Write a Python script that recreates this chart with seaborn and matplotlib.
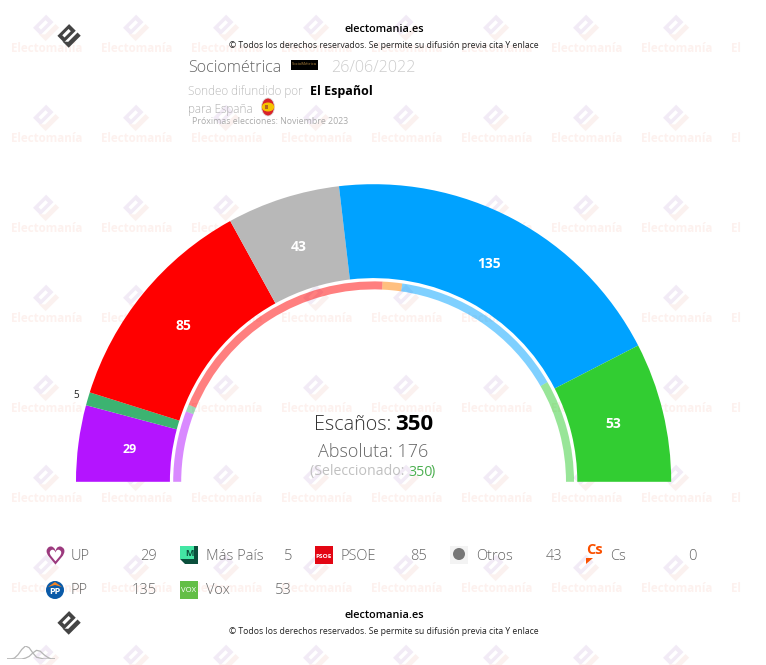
import numpy as np
import pandas as pd
import matplotlib.pyplot as plt
import seaborn as sns
from matplotlib.patches import Circle, Ellipse, Polygon, Rectangle
from matplotlib.transforms import Affine2D

# --------------------------------------------------------------
# Data
# --------------------------------------------------------------

parties = ["UP", "Más País", "PSOE", "Otros", "PP", "Vox"]
seats = [29, 5, 85, 43, 135, 53]
seat_colors = ["#b414ff", "#3cb371", "#ff0000", "#b8b8b8", "#00a2ff", "#32cd32"]

prev_parties = ["UP", "Más País", "PSOE", "Cs", "PP", "Vox"]
prev_seats = [40, 4, 136, 11, 101, 58]
prev_colors = ["#b414ff", "#3cb371", "#ff0000", "#ff8000", "#00a2ff", "#32cd32"]

legend_row1 = ["UP", "Más País", "PSOE", "Otros", "Cs"]
legend_row1_values = [29, 5, 85, 43, 0]
legend_row2 = ["PP", "Vox"]
legend_row2_values = [135, 53]

trend_a = [0, 0, 1, 5, 11, 15, 13, 7, 2, 1, 0, 0, 0, 0]
trend_b = [0, 0, 0, 0, 0, 1, 3, 7, 10, 9, 5, 2, 0, 0]

total_seats = 350
majority = 176
selected = 350

# --------------------------------------------------------------
# Plot settings
# --------------------------------------------------------------

sns.set_theme(style="white")
plt.rcParams["font.family"] = ["Open Sans", "DejaVu Sans"]

WIDTH, HEIGHT = 766, 665
CX, CY = 373.6, 481.8

fig = plt.figure(figsize=(WIDTH / 100, HEIGHT / 100), dpi=100)
ax = fig.add_axes([0, 0, 1, 1])


def logo(x, y, size, c1, c2=None, z=1, clip=None):
    # electomania mark: slotted block upper left, hooked bar lower right
    c2 = c2 or c1
    rot = Affine2D().rotate_deg(45).scale(size).translate(x, y) + ax.transData
    shapes = [
        Polygon([(-0.98, -1), (0.12, -1), (0.12, 0.95), (-0.98, 0.95)], fc=c1, ec="none"),
        Polygon([(-0.62, -0.55), (-0.25, -0.55), (-0.25, 0.5), (-0.62, 0.5)], fc="white", ec="none"),
        Polygon([(0.42, -1), (0.95, -1), (0.95, 1), (-0.1, 1), (0.42, 0.55)], fc=c2, ec="none"),
    ]
    for s in shapes:
        s.set_transform(rot)
        s.set_zorder(z)
        ax.add_patch(s)
        if clip is not None:
            s.set_clip_path(clip)


# --------------------------------------------------------------
# Watermark
# --------------------------------------------------------------

clip_rect = Rectangle((0, 0), 745, HEIGHT, transform=ax.transData)
for row in range(8):
    for col in range(9):
        logo(46 + 90 * col, 28 + 90 * row, 9.5, "#f2ebf6", "#fbf1ef", z=0, clip=clip_rect)
        if row == 7:
            continue
        if col < 8:
            ax.text(47 + 90 * col, 49 + 90 * row, "Electomanía", ha="center", va="center",
                    fontsize=8.4, fontweight="bold", color="#fdf1ee", zorder=0)
        else:
            # the tile runs out at the right edge of the watermark
            ax.text(731, 49 + 90 * row, "El", ha="left", va="center",
                    fontsize=8.4, fontweight="bold", color="#fdf1ee", zorder=0)

# --------------------------------------------------------------
# Hemicycle: half of each pie is left empty
# --------------------------------------------------------------

seat_palette = sns.color_palette(seat_colors)
prev_palette = sns.color_palette(prev_colors)

ax.pie(seats + [sum(seats)], colors=seat_palette + [(1, 1, 1, 0)], center=(CX, CY), radius=297.6,
       startangle=180, counterclock=True, wedgeprops=dict(width=93.9, linewidth=0))
rings, _ = ax.pie(prev_seats + [sum(prev_seats)], colors=prev_palette + [(1, 1, 1, 0)], center=(CX, CY),
                  radius=200.4, startangle=180, counterclock=True, wedgeprops=dict(width=8, linewidth=0))
for w in rings[:-1]:
    w.set_alpha(0.5)

ax.set_xlim(0, WIDTH)
ax.set_ylim(HEIGHT, 0)
ax.set_aspect("auto")
ax.axis("off")

# seat labels at the middle of each wedge
edges = np.cumsum([0] + seats)
for value, start, end in zip(seats, edges[:-1], edges[1:]):
    angle = np.pi * (start + end) / 2 / total_seats
    if value < 10:
        ax.text(CX - 310 * np.cos(angle), CY - 310 * np.sin(angle), str(value), ha="center", va="center",
                fontsize=7.2, color="#222222")
    else:
        ax.text(CX - 246.5 * np.cos(angle), CY - 246.5 * np.sin(angle), str(value), ha="center", va="center",
                fontsize=10 if value > 29 else 9, fontweight="bold", color="white")

# --------------------------------------------------------------
# Center totals
# --------------------------------------------------------------

ax.text(391, 425, "Escaños:", ha="right", va="center", fontsize=14.2, color="#333333", fontweight="light")
ax.text(395, 424, str(total_seats), ha="left", va="center", fontsize=16, color="black", fontweight="bold")
ax.text(373.5, 452, f"Absoluta: {majority}", ha="center", va="center", fontsize=13, color="#666666",
        fontweight="light")
ax.text(408, 472, "(Seleccionado: ", ha="right", va="center", fontsize=10.2, color="#c0c0c0")
ax.text(408, 472, str(selected), ha="left", va="center", fontsize=10.2, color="#4caf50")
ax.text(431, 472, ")", ha="left", va="center", fontsize=10.2, color="#4caf50")

# --------------------------------------------------------------
# Header and footer
# --------------------------------------------------------------

logo(69, 36, 8.5, "#444444")
logo(69, 623, 8.5, "#444444")
for y_head, y_sub in [(30, 45), (616, 631)]:
    ax.text(384, y_head, "electomania.es", ha="center", va="center", fontsize=7.8, fontweight="semibold",
            color="black")
    ax.text(384, y_sub, "© Todos los derechos reservados. Se permite su difusión previa cita Y enlace",
            ha="center", va="center", fontsize=6.2, color="#222222")

ax.text(188, 68, "Sociométrica", ha="left", va="center", fontsize=11.6, color="#666666", fontweight="light")
ax.add_patch(Rectangle((291, 60), 27, 10, fc="black", ec="none", zorder=3))
ax.text(304.5, 64, "SocioMétrica", ha="center", va="center", fontsize=3, color="#b98a40", zorder=4)
ax.text(331, 68, "26/06/2022", ha="left", va="center", fontsize=11.6, color="#cccccc", fontweight="light")
ax.text(188, 91, "Sondeo difundido por", ha="left", va="center", fontsize=8.5, color="#bbbbbb", fontweight="light")
ax.text(310, 91, "El Español", ha="left", va="center", fontsize=9, color="black", fontweight="bold")
ax.text(188, 110, "para España", ha="left", va="center", fontsize=8.5, color="#b0b0b0", fontweight="light")
ax.add_patch(Ellipse((268, 107), 13, 18, fc="#d8232a", ec="#dddddd", lw=0.6, zorder=3))
ax.add_patch(Ellipse((268, 107), 12.5, 9, fc="#f5c400", ec="none", zorder=4))
ax.add_patch(Rectangle((265, 105), 3, 4, fc="#b5651d", ec="none", zorder=5))
ax.text(192, 121, "Próximas elecciones: Noviembre 2023", ha="left", va="center", fontsize=6.3, color="#aaaaaa")

# --------------------------------------------------------------
# Legend
# --------------------------------------------------------------

icon_x = {"UP": 46, "Más País": 180, "PSOE": 315, "Otros": 450, "Cs": 586, "PP": 46, "Vox": 180}
label_x = {"UP": 71, "Más País": 206, "PSOE": 340, "Otros": 476, "Cs": 610, "PP": 71, "Vox": 206}
value_x = {"UP": 157, "Más País": 292, "PSOE": 427, "Otros": 562, "Cs": 697, "PP": 157, "Vox": 292}


def icon(name, x, y):
    if name == "UP":
        ax.scatter([x + 8.5], [y], marker="$\u2665$", s=170, color="#9c3a7e", linewidths=0, zorder=3)
        ax.scatter([x + 8.5], [y - 0.5], marker="$\u2665$", s=70, color="white", linewidths=0, zorder=4)
    elif name == "Más País":
        ax.add_patch(Polygon([(x, y - 9), (x + 18, y - 9), (x + 18, y + 9), (x + 5, y + 9), (x, y + 4)],
                             fc="#0b4f3c", ec="none", zorder=3))
        ax.add_patch(Rectangle((x, y - 9), 14, 13, fc="#43e6a4", ec="none", zorder=4))
        ax.text(x + 9, y - 1, "M", ha="center", va="center", fontsize=6.5, fontweight="bold", color="#0b4f3c", zorder=5)
    elif name == "PSOE":
        ax.add_patch(Rectangle((x, y - 9), 18, 18, fc="#e30613", ec="none", zorder=3))
        ax.text(x + 9, y + 1, "PSOE", ha="center", va="center", fontsize=4.6, fontweight="bold", color="white", zorder=4)
    elif name == "Otros":
        ax.add_patch(Rectangle((x, y - 9), 18, 18, fc="#f3f3f3", ec="none", zorder=3))
        ax.add_patch(Circle((x + 9, y - 1), 6, fc="#777777", ec="none", zorder=4))
    elif name == "Cs":
        ax.text(x + 8.5, y - 4.5, "Cs", ha="center", va="center", fontsize=10.5, fontweight="bold", color="#fa5000", zorder=4)
        ax.add_patch(Polygon([(x, y + 3), (x + 7, y + 3), (x, y + 9)], fc="#fa5000", ec="none", zorder=4))
    elif name == "PP":
        ax.add_patch(Circle((x + 9, y), 9, fc="#0a5aa8", ec="none", zorder=3))
        ax.add_patch(Polygon([(x + 2, y - 3), (x + 9, y - 8), (x + 16, y - 3), (x + 9, y - 5)],
                             fc="#f58220", ec="none", zorder=5))
        ax.text(x + 9, y + 2, "PP", ha="center", va="center", fontsize=6.5, fontweight="bold", color="white", zorder=5)
    elif name == "Vox":
        ax.add_patch(Rectangle((x, y - 9), 18, 18, fc="#63be46", ec="none", zorder=3))
        ax.text(x + 9, y, "VOX", ha="center", va="center", fontsize=5.6, color="white", zorder=4)


for names, values, y in [(legend_row1, legend_row1_values, 555), (legend_row2, legend_row2_values, 590)]:
    for name, value in zip(names, values):
        icon(name, icon_x[name], y)
        ax.text(label_x[name], y + 1, name, ha="left", va="center", fontsize=10.5, color="#666666",
                fontweight="light", zorder=5)
        ax.text(value_x[name], y + 1, str(value), ha="right", va="center", fontsize=10.5, color="#666666",
                fontweight="light", zorder=5)

# --------------------------------------------------------------
# Small trend mark, bottom left
# --------------------------------------------------------------

trend_df = pd.DataFrame({"step": range(len(trend_a)), "a": trend_a, "b": trend_b})
ax_trend = fig.add_axes([7 / WIDTH, 6 / HEIGHT, 48 / WIDTH, 13 / HEIGHT])
ax_trend.patch.set_alpha(0)
sns.lineplot(data=trend_df, x="step", y="a", ax=ax_trend, color="#b5b5b5", linewidth=0.9)
sns.lineplot(data=trend_df, x="step", y="b", ax=ax_trend, color="#b5b5b5", linewidth=0.9)
ax_trend.set_xlim(0, 13)
ax_trend.set_ylim(0, 15)
ax_trend.axis("off")

plt.savefig("out.png", dpi=100)
